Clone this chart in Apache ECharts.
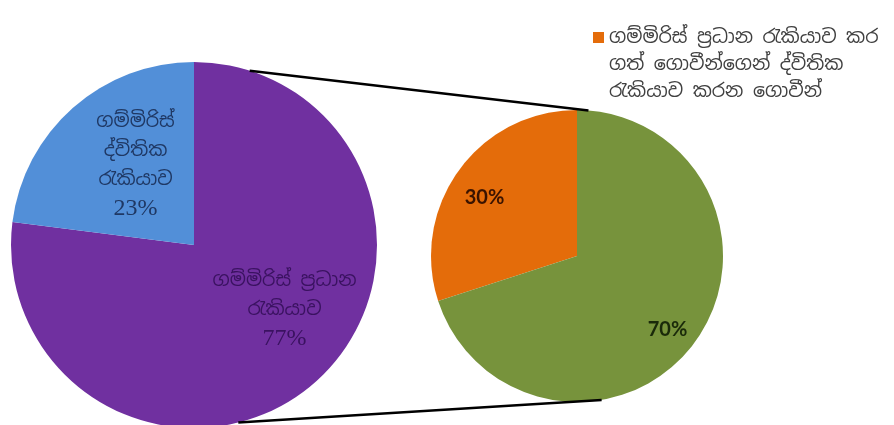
<!DOCTYPE html>
<html><head><meta charset="utf-8">
<script src="https://cdn.jsdelivr.net/npm/echarts@6/dist/echarts.min.js"></script>
<style>html,body{margin:0;padding:0;background:#fff}#c{width:894px;height:425px}</style>
</head><body><div id="c"></div>
<script>
// Data
const mainCategories = ['ගම්මිරිස් ප්‍රධාන\nරැකියාව', 'ගම්මිරිස්\nද්විතික\nරැකියාව'];
const mainValues = [77, 23];
const subCategories = ['ගම්මිරිස් ප්‍රධාන රැකියාව කර ගත් ගොවීන්ගෙන් ද්විතික රැකියාව කරන ගොවීන්', 'ගම්මිරිස් ප්‍රධාන රැකියාව පමණක් කරන ගොවීන්'];
const subValues = [30, 70];
const legendText = 'ගම්මිරිස් ප්‍රධාන රැකියාව කර\nගත් ගොවීන්ගෙන් ද්විතික\nරැකියාව කරන ගොවීන්';

const SIN = '"Noto Sans Sinhala","Iskoola Pota","Noto Sans",sans-serif';
const L = {cx: 194, cy: 245, r: 183};
const R = {cx: 577, cy: 256, r: 146};
function pt(c, deg) { const a = deg * Math.PI / 180; return [c.cx + c.r * Math.sin(a), c.cy - c.r * Math.cos(a)]; }
const t1 = pt(L, 17.7), t2 = pt(R, 4.5), b1 = pt(L, 166), b2 = pt(R, 170.3);

const chart = echarts.init(document.getElementById('c'));
chart.setOption({
  backgroundColor: '#fff',
  animation: false,
  legend: {
    data: [subCategories[0]],
    left: 588, top: -35,
    icon: 'rect', itemWidth: 11, itemHeight: 11, itemGap: 6,
    formatter: () => '\n\n' + legendText,
    textStyle: {fontFamily: SIN, fontSize: 19, color: '#404040', lineHeight: 27}
  },
  series: [
    {
      type: 'pie', center: [L.cx, L.cy], radius: L.r, startAngle: 90, clockwise: true,
      label: {position: 'inside', fontFamily: SIN, fontSize: 19, lineHeight: 29,
        formatter: p => '{t|' + p.name.split('\n').join('}\n{t|') + '}\n{p|' + p.value + '%}',
        rich: {t: {fontFamily: SIN, fontSize: 19, lineHeight: 29}, p: {fontFamily: '"Liberation Serif",serif', fontSize: 24, lineHeight: 29}}},
      labelLine: {show: false},
      labelLayout: p => p.dataIndex === 0 ? {dx: 28, dy: -6} : {dx: 4, dy: -9},
      data: [
        {name: mainCategories[0], value: mainValues[0], itemStyle: {color: '#7030A0'}, label: {color: '#3A1260', rich: {t: {color: '#3A1260'}, p: {color: '#3A1260'}}}},
        {name: mainCategories[1], value: mainValues[1], itemStyle: {color: '#528FD8'}, label: {color: '#1F3864', rich: {t: {color: '#1F3864'}, p: {color: '#1F3864'}}}}
      ]
    },
    {
      type: 'pie', center: [R.cx, R.cy], radius: R.r, startAngle: 90, clockwise: false,
      label: {position: 'inside', fontFamily: 'Lato,sans-serif', fontWeight: 'bold', fontSize: 20, formatter: '{c}%'},
      labelLine: {show: false},
      labelLayout: p => p.dataIndex === 0 ? {dx: -31, dy: -14} : {dx: 29, dy: 29},
      data: [
        {name: subCategories[0], value: subValues[0], itemStyle: {color: '#E46C0A'}, label: {color: '#3A1300'}},
        {name: subCategories[1], value: subValues[1], itemStyle: {color: '#77933C'}, label: {color: '#1A2A0A'}}
      ]
    }
  ],
  graphic: [
    {type: 'line', z: 100, shape: {x1: t1[0], y1: t1[1], x2: t2[0], y2: t2[1]}, style: {stroke: '#000', lineWidth: 2.5}},
    {type: 'line', z: 100, shape: {x1: b1[0], y1: b1[1], x2: b2[0], y2: b2[1]}, style: {stroke: '#000', lineWidth: 2.5}}
  ]
});
</script></body></html>
